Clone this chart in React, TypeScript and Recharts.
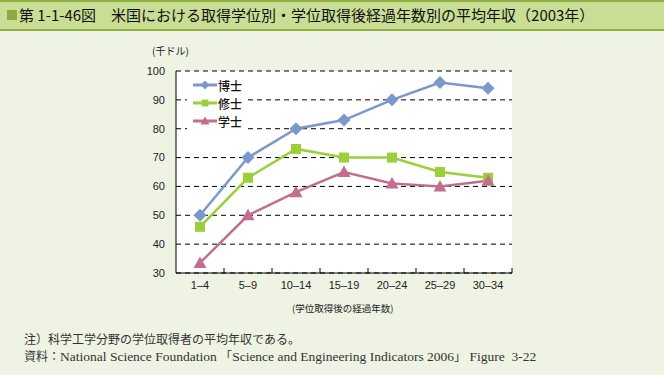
import React from 'react';
import { LineChart, Line, XAxis, YAxis, CartesianGrid } from 'recharts';

const categories = ['1–4', '5–9', '10–14', '15–19', '20–24', '25–29', '30–34'];
const doctorate = [50, 70, 80, 83, 90, 96, 94];
const masters = [46, 63, 73, 70, 70, 65, 63];
const bachelors = [33.5, 50, 58, 65, 61, 60, 62];
const yTicks = [30, 40, 50, 60, 70, 80, 90, 100];

const series = [
  { key: 'doctorate', name: '博士', color: '#7B98CC', shape: 'diamond' },
  { key: 'masters', name: '修士', color: '#9CCF3A', shape: 'square' },
  { key: 'bachelors', name: '学士', color: '#C26F8D', shape: 'triangle' },
];

const data = categories.map((c, i) => ({
  period: c,
  doctorate: doctorate[i],
  masters: masters[i],
  bachelors: bachelors[i],
}));

const FONT = '"Liberation Sans", Arial, "Noto Sans CJK JP", sans-serif';
const CJK = '"Noto Sans CJK JP", "Liberation Sans", sans-serif';
const SERIF = '"Liberation Serif", "DejaVu Serif", "Noto Sans CJK JP", serif';
const TICK_MARGIN = 8;

function Marker({ cx, cy, shape, color, r = 6.5 }: { cx: number; cy: number; shape: string; color: string; r?: number }) {
  if (cx == null || cy == null) return null;
  if (shape === 'diamond') {
    return <polygon points={`${cx},${cy - r} ${cx + r},${cy} ${cx},${cy + r} ${cx - r},${cy}`} fill={color} />;
  }
  if (shape === 'square') {
    const h = r * 0.77;
    return <rect x={cx - h} y={cy - h} width={h * 2} height={h * 2} fill={color} />;
  }
  return <polygon points={`${cx},${cy - r} ${cx + r},${cy + r * 0.77} ${cx - r},${cy + r * 0.77}`} fill={color} />;
}

function XTick(props: any) {
  const { x, y, payload } = props;
  const half = payload?.offset || 24;
  const axisY = y - TICK_MARGIN;
  return (
    <g>
      <line x1={x + half} x2={x + half} y1={axisY - 5} y2={axisY} stroke="#000" strokeWidth={1} />
      <text x={x} y={y} dy="0.71em" textAnchor="middle" fontSize={11} fill="#222" fontFamily={FONT}>
        {payload.value}
      </text>
    </g>
  );
}

function LegendBox() {
  return (
    <div style={{ position: 'absolute', left: 187, top: 74, width: 57, height: 60, background: '#fff', boxSizing: 'border-box', paddingLeft: 6, paddingTop: 2 }}>
      {series.map((s) => (
        <div key={s.key} style={{ display: 'flex', alignItems: 'center', height: 18 }}>
          <svg width={24} height={14}>
            <line x1={0} x2={24} y1={7} y2={7} stroke={s.color} strokeWidth={3} />
            <Marker cx={12} cy={7} shape={s.shape} color={s.color} r={4.5} />
          </svg>
          <span style={{ fontFamily: CJK, fontSize: 12, fontWeight: 500, color: '#111', marginLeft: 1 }}>{s.name}</span>
        </div>
      ))}
    </div>
  );
}

export default function App() {
  return (
    <div style={{ position: 'absolute', left: 0, top: 0, width: 664, height: 375, background: '#EEF3E4', overflow: 'hidden' }}>
      <div style={{ position: 'absolute', left: 0, top: 0, width: 664, height: 31, background: '#C9DD95', borderTop: '2px solid #8FAF40', borderBottom: '2px solid #8FAF40', boxSizing: 'border-box' }} />
      <div style={{ position: 'absolute', left: 7, top: 10, width: 10, height: 10, background: '#8BAA46' }} />
      <div style={{ position: 'absolute', left: 19, top: 5, fontFamily: CJK, fontSize: 15, color: '#111', whiteSpace: 'nowrap', lineHeight: '20px' }}>
        第 1-1-46図　米国における取得学位別・学位取得後経過年数別の平均年収（2003年）
      </div>
      <div style={{ position: 'absolute', left: 152, top: 43, fontFamily: CJK, fontSize: 10, color: '#222', whiteSpace: 'nowrap' }}>
        (千ドル)
      </div>
      <LineChart
        width={664}
        height={310}
        data={data}
        margin={{ top: 71, right: 152, left: 136, bottom: 7 }}
        style={{ position: 'absolute', left: 0, top: 0 }}
      >
        <CartesianGrid vertical={false} stroke="#000" strokeDasharray="5 4" fill="#fff" fillOpacity={1} />
        <XAxis
          dataKey="period"
          scale="band"
          height={30}
          axisLine={{ stroke: '#000' }}
          tickLine={false}
          tickSize={0}
          tickMargin={TICK_MARGIN}
          interval={0}
          tick={<XTick />}
        />
        <YAxis
          width={40}
          domain={[30, 100]}
          ticks={yTicks}
          axisLine={{ stroke: '#000' }}
          tickLine={false}
          tickSize={0}
          tickMargin={11}
          tick={{ fontSize: 11, fill: '#222', fontFamily: FONT }}
        />
        {series.map((s) => (
          <Line
            key={s.key}
            type="linear"
            dataKey={s.key}
            name={s.name}
            stroke={s.color}
            strokeWidth={2.5}
            isAnimationActive={false}
            dot={(p: any) => <Marker key={`${s.key}-${p.index}`} cx={p.cx} cy={p.cy} shape={s.shape} color={s.color} />}
            activeDot={false}
          />
        ))}
      </LineChart>
      <LegendBox />
      <div style={{ position: 'absolute', left: 292, top: 301, fontFamily: CJK, fontSize: 9.5, color: '#222', whiteSpace: 'nowrap' }}>
        (学位取得後の経過年数)
      </div>
      <div style={{ position: 'absolute', left: 24, top: 330, fontFamily: SERIF, fontSize: 12, color: '#333', whiteSpace: 'nowrap' }}>
        注）科学工学分野の学位取得者の平均年収である。
      </div>
      <div style={{ position: 'absolute', left: 24, top: 347, fontFamily: SERIF, fontSize: 12, color: '#333', whiteSpace: 'nowrap' }}>
        資料：<span style={{ fontSize: 13.5 }}>National Science Foundation </span>「<span style={{ fontSize: 13.5 }}>Science and Engineering Indicators 2006</span>」<span style={{ fontSize: 13.5 }}> Figure&nbsp;&nbsp;3-22</span>
      </div>
    </div>
  );
}
